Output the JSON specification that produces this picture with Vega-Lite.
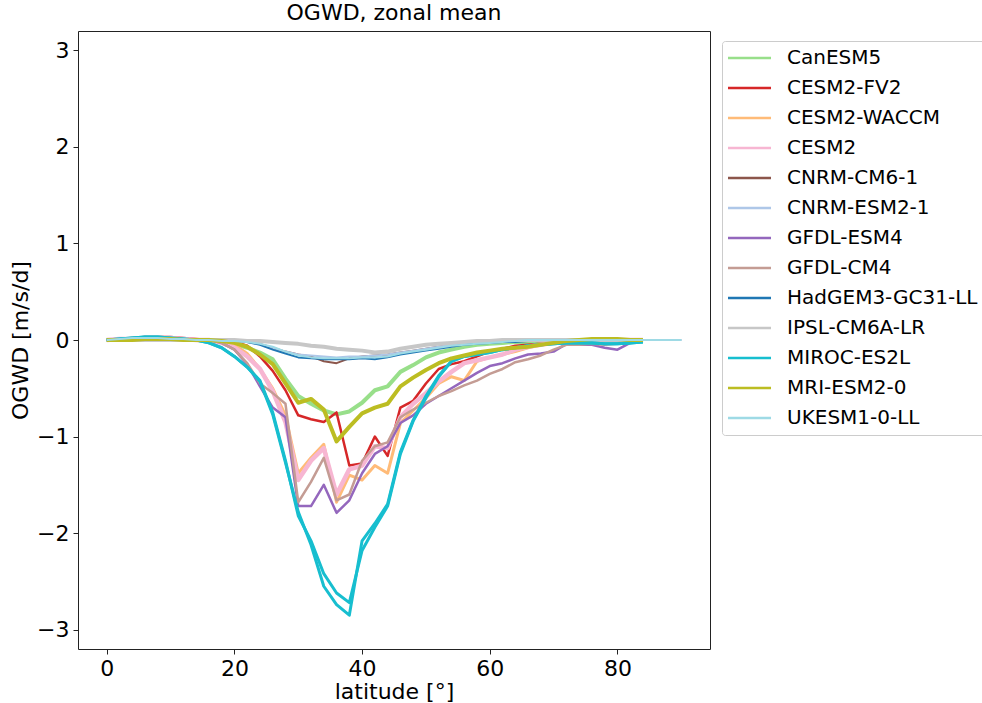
{
"$schema": "https://vega.github.io/schema/vega-lite/v6.json",
"width": 632, "height": 618,
"autosize": {"type": "none"},
"padding": {"left": 78, "top": 31, "right": 272, "bottom": 54},
"background": "white",
"title": {"text": "OGWD, zonal mean", "fontSize": 22, "font": "DejaVu Sans", "fontWeight": "normal", "color": "black", "offset": 6},
"config": {
  "view": {"stroke": "#222", "strokeWidth": 1},
  "axis": {"labelFont": "DejaVu Sans", "labelFontSize": 22, "labelColor": "black", "titleFont": "DejaVu Sans", "titleFontSize": 22, "titleFontWeight": "normal", "titleColor": "black", "tickColor": "#222", "tickSize": 5, "labelPadding": 4, "domain": false, "grid": false},
  "legend": {"orient": "none", "legendX": 644, "legendY": 10, "labelFont": "DejaVu Sans", "labelFontSize": 20, "labelColor": "black", "labelLimit": 0, "symbolType": "M-2.2,0H6.4", "symbolSize": 100, "symbolStrokeWidth": 2.5, "symbolFillColor": "transparent", "strokeColor": "#cccccc", "fillColor": "white", "padding": 7, "cornerRadius": 3, "labelOffset": 38, "rowPadding": 10, "title": null}
},
"data": {"values": [
{"model":"CanESM5","lat":0,"ogwd":0},{"model":"CanESM5","lat":2,"ogwd":0},{"model":"CanESM5","lat":4,"ogwd":0.01},{"model":"CanESM5","lat":6,"ogwd":0.01},{"model":"CanESM5","lat":8,"ogwd":0.01},{"model":"CanESM5","lat":10,"ogwd":0.01},{"model":"CanESM5","lat":12,"ogwd":0},{"model":"CanESM5","lat":14,"ogwd":0},{"model":"CanESM5","lat":16,"ogwd":-0.01},{"model":"CanESM5","lat":18,"ogwd":-0.02},{"model":"CanESM5","lat":20,"ogwd":-0.04},{"model":"CanESM5","lat":22,"ogwd":-0.08},{"model":"CanESM5","lat":24,"ogwd":-0.13},{"model":"CanESM5","lat":26,"ogwd":-0.2},{"model":"CanESM5","lat":28,"ogwd":-0.4},{"model":"CanESM5","lat":30,"ogwd":-0.58},{"model":"CanESM5","lat":32,"ogwd":-0.66},{"model":"CanESM5","lat":34,"ogwd":-0.73},{"model":"CanESM5","lat":36,"ogwd":-0.77},{"model":"CanESM5","lat":38,"ogwd":-0.74},{"model":"CanESM5","lat":40,"ogwd":-0.65},{"model":"CanESM5","lat":42,"ogwd":-0.52},{"model":"CanESM5","lat":44,"ogwd":-0.48},{"model":"CanESM5","lat":46,"ogwd":-0.33},{"model":"CanESM5","lat":48,"ogwd":-0.26},{"model":"CanESM5","lat":50,"ogwd":-0.18},{"model":"CanESM5","lat":52,"ogwd":-0.13},{"model":"CanESM5","lat":54,"ogwd":-0.1},{"model":"CanESM5","lat":56,"ogwd":-0.07},{"model":"CanESM5","lat":58,"ogwd":-0.05},{"model":"CanESM5","lat":60,"ogwd":-0.04},{"model":"CanESM5","lat":62,"ogwd":-0.03},{"model":"CanESM5","lat":64,"ogwd":-0.02},{"model":"CanESM5","lat":66,"ogwd":-0.02},{"model":"CanESM5","lat":68,"ogwd":-0.01},{"model":"CanESM5","lat":70,"ogwd":-0.01},{"model":"CanESM5","lat":72,"ogwd":0},{"model":"CanESM5","lat":74,"ogwd":0},{"model":"CanESM5","lat":76,"ogwd":0},{"model":"CanESM5","lat":78,"ogwd":0},{"model":"CanESM5","lat":80,"ogwd":0},{"model":"CanESM5","lat":82,"ogwd":0},{"model":"CanESM5","lat":84,"ogwd":0},
{"model":"CESM2-FV2","lat":0,"ogwd":0},{"model":"CESM2-FV2","lat":2,"ogwd":0.01},{"model":"CESM2-FV2","lat":4,"ogwd":0.02},{"model":"CESM2-FV2","lat":6,"ogwd":0.03},{"model":"CESM2-FV2","lat":8,"ogwd":0.03},{"model":"CESM2-FV2","lat":10,"ogwd":0.03},{"model":"CESM2-FV2","lat":12,"ogwd":0.02},{"model":"CESM2-FV2","lat":14,"ogwd":0.01},{"model":"CESM2-FV2","lat":16,"ogwd":0},{"model":"CESM2-FV2","lat":18,"ogwd":-0.01},{"model":"CESM2-FV2","lat":20,"ogwd":-0.02},{"model":"CESM2-FV2","lat":22,"ogwd":-0.06},{"model":"CESM2-FV2","lat":24,"ogwd":-0.17},{"model":"CESM2-FV2","lat":26,"ogwd":-0.32},{"model":"CESM2-FV2","lat":28,"ogwd":-0.52},{"model":"CESM2-FV2","lat":30,"ogwd":-0.78},{"model":"CESM2-FV2","lat":32,"ogwd":-0.82},{"model":"CESM2-FV2","lat":34,"ogwd":-0.85},{"model":"CESM2-FV2","lat":36,"ogwd":-0.75},{"model":"CESM2-FV2","lat":38,"ogwd":-1.3},{"model":"CESM2-FV2","lat":40,"ogwd":-1.28},{"model":"CESM2-FV2","lat":42,"ogwd":-1.0},{"model":"CESM2-FV2","lat":44,"ogwd":-1.2},{"model":"CESM2-FV2","lat":46,"ogwd":-0.7},{"model":"CESM2-FV2","lat":48,"ogwd":-0.63},{"model":"CESM2-FV2","lat":50,"ogwd":-0.45},{"model":"CESM2-FV2","lat":52,"ogwd":-0.3},{"model":"CESM2-FV2","lat":54,"ogwd":-0.25},{"model":"CESM2-FV2","lat":56,"ogwd":-0.22},{"model":"CESM2-FV2","lat":58,"ogwd":-0.17},{"model":"CESM2-FV2","lat":60,"ogwd":-0.12},{"model":"CESM2-FV2","lat":62,"ogwd":-0.09},{"model":"CESM2-FV2","lat":64,"ogwd":-0.06},{"model":"CESM2-FV2","lat":66,"ogwd":-0.05},{"model":"CESM2-FV2","lat":68,"ogwd":-0.04},{"model":"CESM2-FV2","lat":70,"ogwd":-0.03},{"model":"CESM2-FV2","lat":72,"ogwd":-0.01},{"model":"CESM2-FV2","lat":74,"ogwd":0},{"model":"CESM2-FV2","lat":76,"ogwd":0},{"model":"CESM2-FV2","lat":78,"ogwd":0},{"model":"CESM2-FV2","lat":80,"ogwd":0},{"model":"CESM2-FV2","lat":82,"ogwd":0},{"model":"CESM2-FV2","lat":84,"ogwd":0},
{"model":"CESM2-WACCM","lat":0,"ogwd":0},{"model":"CESM2-WACCM","lat":2,"ogwd":0.01},{"model":"CESM2-WACCM","lat":4,"ogwd":0.01},{"model":"CESM2-WACCM","lat":6,"ogwd":0.02},{"model":"CESM2-WACCM","lat":8,"ogwd":0.02},{"model":"CESM2-WACCM","lat":10,"ogwd":0.02},{"model":"CESM2-WACCM","lat":12,"ogwd":0.01},{"model":"CESM2-WACCM","lat":14,"ogwd":0},{"model":"CESM2-WACCM","lat":16,"ogwd":0},{"model":"CESM2-WACCM","lat":18,"ogwd":-0.02},{"model":"CESM2-WACCM","lat":20,"ogwd":-0.05},{"model":"CESM2-WACCM","lat":22,"ogwd":-0.14},{"model":"CESM2-WACCM","lat":24,"ogwd":-0.3},{"model":"CESM2-WACCM","lat":26,"ogwd":-0.5},{"model":"CESM2-WACCM","lat":28,"ogwd":-0.78},{"model":"CESM2-WACCM","lat":30,"ogwd":-1.38},{"model":"CESM2-WACCM","lat":32,"ogwd":-1.22},{"model":"CESM2-WACCM","lat":34,"ogwd":-1.08},{"model":"CESM2-WACCM","lat":36,"ogwd":-1.68},{"model":"CESM2-WACCM","lat":38,"ogwd":-1.4},{"model":"CESM2-WACCM","lat":40,"ogwd":-1.45},{"model":"CESM2-WACCM","lat":42,"ogwd":-1.3},{"model":"CESM2-WACCM","lat":44,"ogwd":-1.38},{"model":"CESM2-WACCM","lat":46,"ogwd":-0.86},{"model":"CESM2-WACCM","lat":48,"ogwd":-0.73},{"model":"CESM2-WACCM","lat":50,"ogwd":-0.6},{"model":"CESM2-WACCM","lat":52,"ogwd":-0.45},{"model":"CESM2-WACCM","lat":54,"ogwd":-0.38},{"model":"CESM2-WACCM","lat":56,"ogwd":-0.42},{"model":"CESM2-WACCM","lat":58,"ogwd":-0.22},{"model":"CESM2-WACCM","lat":60,"ogwd":-0.18},{"model":"CESM2-WACCM","lat":62,"ogwd":-0.15},{"model":"CESM2-WACCM","lat":64,"ogwd":-0.12},{"model":"CESM2-WACCM","lat":66,"ogwd":-0.08},{"model":"CESM2-WACCM","lat":68,"ogwd":-0.05},{"model":"CESM2-WACCM","lat":70,"ogwd":-0.03},{"model":"CESM2-WACCM","lat":72,"ogwd":-0.02},{"model":"CESM2-WACCM","lat":74,"ogwd":-0.01},{"model":"CESM2-WACCM","lat":76,"ogwd":0},{"model":"CESM2-WACCM","lat":78,"ogwd":0},{"model":"CESM2-WACCM","lat":80,"ogwd":0},{"model":"CESM2-WACCM","lat":82,"ogwd":0},{"model":"CESM2-WACCM","lat":84,"ogwd":0},
{"model":"CESM2","lat":0,"ogwd":0},{"model":"CESM2","lat":2,"ogwd":0.01},{"model":"CESM2","lat":4,"ogwd":0.01},{"model":"CESM2","lat":6,"ogwd":0.02},{"model":"CESM2","lat":8,"ogwd":0.02},{"model":"CESM2","lat":10,"ogwd":0.02},{"model":"CESM2","lat":12,"ogwd":0.01},{"model":"CESM2","lat":14,"ogwd":0},{"model":"CESM2","lat":16,"ogwd":0},{"model":"CESM2","lat":18,"ogwd":-0.03},{"model":"CESM2","lat":20,"ogwd":-0.08},{"model":"CESM2","lat":22,"ogwd":-0.17},{"model":"CESM2","lat":24,"ogwd":-0.3},{"model":"CESM2","lat":26,"ogwd":-0.53},{"model":"CESM2","lat":28,"ogwd":-0.85},{"model":"CESM2","lat":30,"ogwd":-1.45},{"model":"CESM2","lat":32,"ogwd":-1.25},{"model":"CESM2","lat":34,"ogwd":-1.12},{"model":"CESM2","lat":36,"ogwd":-1.6},{"model":"CESM2","lat":38,"ogwd":-1.34},{"model":"CESM2","lat":40,"ogwd":-1.3},{"model":"CESM2","lat":42,"ogwd":-1.1},{"model":"CESM2","lat":44,"ogwd":-1.12},{"model":"CESM2","lat":46,"ogwd":-0.8},{"model":"CESM2","lat":48,"ogwd":-0.66},{"model":"CESM2","lat":50,"ogwd":-0.55},{"model":"CESM2","lat":52,"ogwd":-0.43},{"model":"CESM2","lat":54,"ogwd":-0.33},{"model":"CESM2","lat":56,"ogwd":-0.24},{"model":"CESM2","lat":58,"ogwd":-0.21},{"model":"CESM2","lat":60,"ogwd":-0.18},{"model":"CESM2","lat":62,"ogwd":-0.15},{"model":"CESM2","lat":64,"ogwd":-0.1},{"model":"CESM2","lat":66,"ogwd":-0.07},{"model":"CESM2","lat":68,"ogwd":-0.05},{"model":"CESM2","lat":70,"ogwd":-0.03},{"model":"CESM2","lat":72,"ogwd":-0.02},{"model":"CESM2","lat":74,"ogwd":-0.01},{"model":"CESM2","lat":76,"ogwd":0},{"model":"CESM2","lat":78,"ogwd":0},{"model":"CESM2","lat":80,"ogwd":0},{"model":"CESM2","lat":82,"ogwd":0},{"model":"CESM2","lat":84,"ogwd":0},
{"model":"CNRM-CM6-1","lat":0,"ogwd":0},{"model":"CNRM-CM6-1","lat":2,"ogwd":0},{"model":"CNRM-CM6-1","lat":4,"ogwd":0},{"model":"CNRM-CM6-1","lat":6,"ogwd":0.01},{"model":"CNRM-CM6-1","lat":8,"ogwd":0.01},{"model":"CNRM-CM6-1","lat":10,"ogwd":0.01},{"model":"CNRM-CM6-1","lat":12,"ogwd":0},{"model":"CNRM-CM6-1","lat":14,"ogwd":0},{"model":"CNRM-CM6-1","lat":16,"ogwd":0},{"model":"CNRM-CM6-1","lat":18,"ogwd":0},{"model":"CNRM-CM6-1","lat":20,"ogwd":-0.01},{"model":"CNRM-CM6-1","lat":22,"ogwd":-0.02},{"model":"CNRM-CM6-1","lat":24,"ogwd":-0.04},{"model":"CNRM-CM6-1","lat":26,"ogwd":-0.08},{"model":"CNRM-CM6-1","lat":28,"ogwd":-0.12},{"model":"CNRM-CM6-1","lat":30,"ogwd":-0.15},{"model":"CNRM-CM6-1","lat":32,"ogwd":-0.17},{"model":"CNRM-CM6-1","lat":34,"ogwd":-0.22},{"model":"CNRM-CM6-1","lat":36,"ogwd":-0.24},{"model":"CNRM-CM6-1","lat":38,"ogwd":-0.19},{"model":"CNRM-CM6-1","lat":40,"ogwd":-0.17},{"model":"CNRM-CM6-1","lat":42,"ogwd":-0.16},{"model":"CNRM-CM6-1","lat":44,"ogwd":-0.15},{"model":"CNRM-CM6-1","lat":46,"ogwd":-0.13},{"model":"CNRM-CM6-1","lat":48,"ogwd":-0.11},{"model":"CNRM-CM6-1","lat":50,"ogwd":-0.09},{"model":"CNRM-CM6-1","lat":52,"ogwd":-0.07},{"model":"CNRM-CM6-1","lat":54,"ogwd":-0.05},{"model":"CNRM-CM6-1","lat":56,"ogwd":-0.04},{"model":"CNRM-CM6-1","lat":58,"ogwd":-0.03},{"model":"CNRM-CM6-1","lat":60,"ogwd":-0.02},{"model":"CNRM-CM6-1","lat":62,"ogwd":-0.01},{"model":"CNRM-CM6-1","lat":64,"ogwd":0},{"model":"CNRM-CM6-1","lat":66,"ogwd":0},{"model":"CNRM-CM6-1","lat":68,"ogwd":0},{"model":"CNRM-CM6-1","lat":70,"ogwd":0},{"model":"CNRM-CM6-1","lat":72,"ogwd":0},{"model":"CNRM-CM6-1","lat":74,"ogwd":0},{"model":"CNRM-CM6-1","lat":76,"ogwd":0},{"model":"CNRM-CM6-1","lat":78,"ogwd":0},{"model":"CNRM-CM6-1","lat":80,"ogwd":0},{"model":"CNRM-CM6-1","lat":82,"ogwd":0},{"model":"CNRM-CM6-1","lat":84,"ogwd":0},
{"model":"CNRM-ESM2-1","lat":0,"ogwd":0},{"model":"CNRM-ESM2-1","lat":2,"ogwd":0},{"model":"CNRM-ESM2-1","lat":4,"ogwd":0},{"model":"CNRM-ESM2-1","lat":6,"ogwd":0.01},{"model":"CNRM-ESM2-1","lat":8,"ogwd":0.01},{"model":"CNRM-ESM2-1","lat":10,"ogwd":0.01},{"model":"CNRM-ESM2-1","lat":12,"ogwd":0},{"model":"CNRM-ESM2-1","lat":14,"ogwd":0},{"model":"CNRM-ESM2-1","lat":16,"ogwd":0},{"model":"CNRM-ESM2-1","lat":18,"ogwd":0},{"model":"CNRM-ESM2-1","lat":20,"ogwd":-0.01},{"model":"CNRM-ESM2-1","lat":22,"ogwd":-0.02},{"model":"CNRM-ESM2-1","lat":24,"ogwd":-0.04},{"model":"CNRM-ESM2-1","lat":26,"ogwd":-0.08},{"model":"CNRM-ESM2-1","lat":28,"ogwd":-0.12},{"model":"CNRM-ESM2-1","lat":30,"ogwd":-0.15},{"model":"CNRM-ESM2-1","lat":32,"ogwd":-0.16},{"model":"CNRM-ESM2-1","lat":34,"ogwd":-0.17},{"model":"CNRM-ESM2-1","lat":36,"ogwd":-0.18},{"model":"CNRM-ESM2-1","lat":38,"ogwd":-0.17},{"model":"CNRM-ESM2-1","lat":40,"ogwd":-0.17},{"model":"CNRM-ESM2-1","lat":42,"ogwd":-0.16},{"model":"CNRM-ESM2-1","lat":44,"ogwd":-0.15},{"model":"CNRM-ESM2-1","lat":46,"ogwd":-0.13},{"model":"CNRM-ESM2-1","lat":48,"ogwd":-0.11},{"model":"CNRM-ESM2-1","lat":50,"ogwd":-0.09},{"model":"CNRM-ESM2-1","lat":52,"ogwd":-0.07},{"model":"CNRM-ESM2-1","lat":54,"ogwd":-0.05},{"model":"CNRM-ESM2-1","lat":56,"ogwd":-0.04},{"model":"CNRM-ESM2-1","lat":58,"ogwd":-0.03},{"model":"CNRM-ESM2-1","lat":60,"ogwd":-0.02},{"model":"CNRM-ESM2-1","lat":62,"ogwd":-0.01},{"model":"CNRM-ESM2-1","lat":64,"ogwd":0},{"model":"CNRM-ESM2-1","lat":66,"ogwd":0},{"model":"CNRM-ESM2-1","lat":68,"ogwd":0},{"model":"CNRM-ESM2-1","lat":70,"ogwd":0},{"model":"CNRM-ESM2-1","lat":72,"ogwd":0},{"model":"CNRM-ESM2-1","lat":74,"ogwd":0},{"model":"CNRM-ESM2-1","lat":76,"ogwd":0},{"model":"CNRM-ESM2-1","lat":78,"ogwd":0},{"model":"CNRM-ESM2-1","lat":80,"ogwd":0},{"model":"CNRM-ESM2-1","lat":82,"ogwd":0},{"model":"CNRM-ESM2-1","lat":84,"ogwd":0},
{"model":"GFDL-ESM4","lat":0,"ogwd":0},{"model":"GFDL-ESM4","lat":2,"ogwd":0},{"model":"GFDL-ESM4","lat":4,"ogwd":0},{"model":"GFDL-ESM4","lat":6,"ogwd":0.01},{"model":"GFDL-ESM4","lat":8,"ogwd":0.01},{"model":"GFDL-ESM4","lat":10,"ogwd":0.01},{"model":"GFDL-ESM4","lat":12,"ogwd":0},{"model":"GFDL-ESM4","lat":14,"ogwd":0},{"model":"GFDL-ESM4","lat":16,"ogwd":0},{"model":"GFDL-ESM4","lat":18,"ogwd":-0.03},{"model":"GFDL-ESM4","lat":20,"ogwd":-0.1},{"model":"GFDL-ESM4","lat":22,"ogwd":-0.25},{"model":"GFDL-ESM4","lat":24,"ogwd":-0.48},{"model":"GFDL-ESM4","lat":26,"ogwd":-0.7},{"model":"GFDL-ESM4","lat":28,"ogwd":-0.8},{"model":"GFDL-ESM4","lat":30,"ogwd":-1.72},{"model":"GFDL-ESM4","lat":32,"ogwd":-1.72},{"model":"GFDL-ESM4","lat":34,"ogwd":-1.5},{"model":"GFDL-ESM4","lat":36,"ogwd":-1.79},{"model":"GFDL-ESM4","lat":38,"ogwd":-1.66},{"model":"GFDL-ESM4","lat":40,"ogwd":-1.38},{"model":"GFDL-ESM4","lat":42,"ogwd":-1.18},{"model":"GFDL-ESM4","lat":44,"ogwd":-1.1},{"model":"GFDL-ESM4","lat":46,"ogwd":-0.86},{"model":"GFDL-ESM4","lat":48,"ogwd":-0.78},{"model":"GFDL-ESM4","lat":50,"ogwd":-0.66},{"model":"GFDL-ESM4","lat":52,"ogwd":-0.58},{"model":"GFDL-ESM4","lat":54,"ogwd":-0.5},{"model":"GFDL-ESM4","lat":56,"ogwd":-0.42},{"model":"GFDL-ESM4","lat":58,"ogwd":-0.34},{"model":"GFDL-ESM4","lat":60,"ogwd":-0.27},{"model":"GFDL-ESM4","lat":62,"ogwd":-0.24},{"model":"GFDL-ESM4","lat":64,"ogwd":-0.19},{"model":"GFDL-ESM4","lat":66,"ogwd":-0.15},{"model":"GFDL-ESM4","lat":68,"ogwd":-0.14},{"model":"GFDL-ESM4","lat":70,"ogwd":-0.12},{"model":"GFDL-ESM4","lat":72,"ogwd":-0.04},{"model":"GFDL-ESM4","lat":74,"ogwd":-0.05},{"model":"GFDL-ESM4","lat":76,"ogwd":-0.05},{"model":"GFDL-ESM4","lat":78,"ogwd":-0.08},{"model":"GFDL-ESM4","lat":80,"ogwd":-0.1},{"model":"GFDL-ESM4","lat":82,"ogwd":-0.03},{"model":"GFDL-ESM4","lat":84,"ogwd":-0.01},
{"model":"GFDL-CM4","lat":0,"ogwd":0},{"model":"GFDL-CM4","lat":2,"ogwd":0},{"model":"GFDL-CM4","lat":4,"ogwd":0},{"model":"GFDL-CM4","lat":6,"ogwd":0.01},{"model":"GFDL-CM4","lat":8,"ogwd":0.01},{"model":"GFDL-CM4","lat":10,"ogwd":0.01},{"model":"GFDL-CM4","lat":12,"ogwd":0},{"model":"GFDL-CM4","lat":14,"ogwd":0},{"model":"GFDL-CM4","lat":16,"ogwd":0},{"model":"GFDL-CM4","lat":18,"ogwd":-0.03},{"model":"GFDL-CM4","lat":20,"ogwd":-0.1},{"model":"GFDL-CM4","lat":22,"ogwd":-0.24},{"model":"GFDL-CM4","lat":24,"ogwd":-0.45},{"model":"GFDL-CM4","lat":26,"ogwd":-0.55},{"model":"GFDL-CM4","lat":28,"ogwd":-0.66},{"model":"GFDL-CM4","lat":30,"ogwd":-1.68},{"model":"GFDL-CM4","lat":32,"ogwd":-1.47},{"model":"GFDL-CM4","lat":34,"ogwd":-1.22},{"model":"GFDL-CM4","lat":36,"ogwd":-1.66},{"model":"GFDL-CM4","lat":38,"ogwd":-1.6},{"model":"GFDL-CM4","lat":40,"ogwd":-1.25},{"model":"GFDL-CM4","lat":42,"ogwd":-1.1},{"model":"GFDL-CM4","lat":44,"ogwd":-1.06},{"model":"GFDL-CM4","lat":46,"ogwd":-0.8},{"model":"GFDL-CM4","lat":48,"ogwd":-0.72},{"model":"GFDL-CM4","lat":50,"ogwd":-0.65},{"model":"GFDL-CM4","lat":52,"ogwd":-0.58},{"model":"GFDL-CM4","lat":54,"ogwd":-0.53},{"model":"GFDL-CM4","lat":56,"ogwd":-0.47},{"model":"GFDL-CM4","lat":58,"ogwd":-0.42},{"model":"GFDL-CM4","lat":60,"ogwd":-0.35},{"model":"GFDL-CM4","lat":62,"ogwd":-0.3},{"model":"GFDL-CM4","lat":64,"ogwd":-0.23},{"model":"GFDL-CM4","lat":66,"ogwd":-0.2},{"model":"GFDL-CM4","lat":68,"ogwd":-0.16},{"model":"GFDL-CM4","lat":70,"ogwd":-0.1},{"model":"GFDL-CM4","lat":72,"ogwd":-0.05},{"model":"GFDL-CM4","lat":74,"ogwd":-0.05},{"model":"GFDL-CM4","lat":76,"ogwd":-0.04},{"model":"GFDL-CM4","lat":78,"ogwd":-0.05},{"model":"GFDL-CM4","lat":80,"ogwd":-0.04},{"model":"GFDL-CM4","lat":82,"ogwd":-0.02},{"model":"GFDL-CM4","lat":84,"ogwd":0},
{"model":"HadGEM3-GC31-LL","lat":0,"ogwd":0},{"model":"HadGEM3-GC31-LL","lat":2,"ogwd":0.01},{"model":"HadGEM3-GC31-LL","lat":4,"ogwd":0.02},{"model":"HadGEM3-GC31-LL","lat":6,"ogwd":0.02},{"model":"HadGEM3-GC31-LL","lat":8,"ogwd":0.02},{"model":"HadGEM3-GC31-LL","lat":10,"ogwd":0.01},{"model":"HadGEM3-GC31-LL","lat":12,"ogwd":0.01},{"model":"HadGEM3-GC31-LL","lat":14,"ogwd":0},{"model":"HadGEM3-GC31-LL","lat":16,"ogwd":0},{"model":"HadGEM3-GC31-LL","lat":18,"ogwd":-0.01},{"model":"HadGEM3-GC31-LL","lat":20,"ogwd":-0.01},{"model":"HadGEM3-GC31-LL","lat":22,"ogwd":-0.02},{"model":"HadGEM3-GC31-LL","lat":24,"ogwd":-0.05},{"model":"HadGEM3-GC31-LL","lat":26,"ogwd":-0.1},{"model":"HadGEM3-GC31-LL","lat":28,"ogwd":-0.14},{"model":"HadGEM3-GC31-LL","lat":30,"ogwd":-0.18},{"model":"HadGEM3-GC31-LL","lat":32,"ogwd":-0.19},{"model":"HadGEM3-GC31-LL","lat":34,"ogwd":-0.2},{"model":"HadGEM3-GC31-LL","lat":36,"ogwd":-0.2},{"model":"HadGEM3-GC31-LL","lat":38,"ogwd":-0.2},{"model":"HadGEM3-GC31-LL","lat":40,"ogwd":-0.19},{"model":"HadGEM3-GC31-LL","lat":42,"ogwd":-0.2},{"model":"HadGEM3-GC31-LL","lat":44,"ogwd":-0.18},{"model":"HadGEM3-GC31-LL","lat":46,"ogwd":-0.15},{"model":"HadGEM3-GC31-LL","lat":48,"ogwd":-0.13},{"model":"HadGEM3-GC31-LL","lat":50,"ogwd":-0.11},{"model":"HadGEM3-GC31-LL","lat":52,"ogwd":-0.09},{"model":"HadGEM3-GC31-LL","lat":54,"ogwd":-0.07},{"model":"HadGEM3-GC31-LL","lat":56,"ogwd":-0.05},{"model":"HadGEM3-GC31-LL","lat":58,"ogwd":-0.04},{"model":"HadGEM3-GC31-LL","lat":60,"ogwd":-0.03},{"model":"HadGEM3-GC31-LL","lat":62,"ogwd":-0.02},{"model":"HadGEM3-GC31-LL","lat":64,"ogwd":-0.02},{"model":"HadGEM3-GC31-LL","lat":66,"ogwd":-0.01},{"model":"HadGEM3-GC31-LL","lat":68,"ogwd":0},{"model":"HadGEM3-GC31-LL","lat":70,"ogwd":0},{"model":"HadGEM3-GC31-LL","lat":72,"ogwd":0},{"model":"HadGEM3-GC31-LL","lat":74,"ogwd":0},{"model":"HadGEM3-GC31-LL","lat":76,"ogwd":0},{"model":"HadGEM3-GC31-LL","lat":78,"ogwd":0},{"model":"HadGEM3-GC31-LL","lat":80,"ogwd":0},{"model":"HadGEM3-GC31-LL","lat":82,"ogwd":0},{"model":"HadGEM3-GC31-LL","lat":84,"ogwd":0},{"model":"HadGEM3-GC31-LL","lat":86,"ogwd":0},{"model":"HadGEM3-GC31-LL","lat":88,"ogwd":0},{"model":"HadGEM3-GC31-LL","lat":90,"ogwd":0},
{"model":"IPSL-CM6A-LR","lat":0,"ogwd":0},{"model":"IPSL-CM6A-LR","lat":2,"ogwd":0},{"model":"IPSL-CM6A-LR","lat":4,"ogwd":0},{"model":"IPSL-CM6A-LR","lat":6,"ogwd":0},{"model":"IPSL-CM6A-LR","lat":8,"ogwd":0},{"model":"IPSL-CM6A-LR","lat":10,"ogwd":0},{"model":"IPSL-CM6A-LR","lat":12,"ogwd":0},{"model":"IPSL-CM6A-LR","lat":14,"ogwd":0},{"model":"IPSL-CM6A-LR","lat":16,"ogwd":0},{"model":"IPSL-CM6A-LR","lat":18,"ogwd":0},{"model":"IPSL-CM6A-LR","lat":20,"ogwd":0},{"model":"IPSL-CM6A-LR","lat":22,"ogwd":-0.01},{"model":"IPSL-CM6A-LR","lat":24,"ogwd":-0.01},{"model":"IPSL-CM6A-LR","lat":26,"ogwd":-0.02},{"model":"IPSL-CM6A-LR","lat":28,"ogwd":-0.03},{"model":"IPSL-CM6A-LR","lat":30,"ogwd":-0.04},{"model":"IPSL-CM6A-LR","lat":32,"ogwd":-0.06},{"model":"IPSL-CM6A-LR","lat":34,"ogwd":-0.07},{"model":"IPSL-CM6A-LR","lat":36,"ogwd":-0.09},{"model":"IPSL-CM6A-LR","lat":38,"ogwd":-0.1},{"model":"IPSL-CM6A-LR","lat":40,"ogwd":-0.11},{"model":"IPSL-CM6A-LR","lat":42,"ogwd":-0.13},{"model":"IPSL-CM6A-LR","lat":44,"ogwd":-0.12},{"model":"IPSL-CM6A-LR","lat":46,"ogwd":-0.09},{"model":"IPSL-CM6A-LR","lat":48,"ogwd":-0.07},{"model":"IPSL-CM6A-LR","lat":50,"ogwd":-0.05},{"model":"IPSL-CM6A-LR","lat":52,"ogwd":-0.04},{"model":"IPSL-CM6A-LR","lat":54,"ogwd":-0.03},{"model":"IPSL-CM6A-LR","lat":56,"ogwd":-0.02},{"model":"IPSL-CM6A-LR","lat":58,"ogwd":-0.01},{"model":"IPSL-CM6A-LR","lat":60,"ogwd":-0.01},{"model":"IPSL-CM6A-LR","lat":62,"ogwd":0},{"model":"IPSL-CM6A-LR","lat":64,"ogwd":0},{"model":"IPSL-CM6A-LR","lat":66,"ogwd":0},{"model":"IPSL-CM6A-LR","lat":68,"ogwd":0},{"model":"IPSL-CM6A-LR","lat":70,"ogwd":0},{"model":"IPSL-CM6A-LR","lat":72,"ogwd":0},{"model":"IPSL-CM6A-LR","lat":74,"ogwd":0},{"model":"IPSL-CM6A-LR","lat":76,"ogwd":0},{"model":"IPSL-CM6A-LR","lat":78,"ogwd":0},{"model":"IPSL-CM6A-LR","lat":80,"ogwd":0},{"model":"IPSL-CM6A-LR","lat":82,"ogwd":0},{"model":"IPSL-CM6A-LR","lat":84,"ogwd":0},
{"model":"MIROC-ES2L","member":"r1","lat":0,"ogwd":0},{"model":"MIROC-ES2L","member":"r1","lat":2,"ogwd":0.01},{"model":"MIROC-ES2L","member":"r1","lat":4,"ogwd":0.02},{"model":"MIROC-ES2L","member":"r1","lat":6,"ogwd":0.03},{"model":"MIROC-ES2L","member":"r1","lat":8,"ogwd":0.03},{"model":"MIROC-ES2L","member":"r1","lat":10,"ogwd":0.02},{"model":"MIROC-ES2L","member":"r1","lat":12,"ogwd":0.01},{"model":"MIROC-ES2L","member":"r1","lat":14,"ogwd":0},{"model":"MIROC-ES2L","member":"r1","lat":16,"ogwd":-0.03},{"model":"MIROC-ES2L","member":"r1","lat":18,"ogwd":-0.08},{"model":"MIROC-ES2L","member":"r1","lat":20,"ogwd":-0.17},{"model":"MIROC-ES2L","member":"r1","lat":22,"ogwd":-0.28},{"model":"MIROC-ES2L","member":"r1","lat":24,"ogwd":-0.42},{"model":"MIROC-ES2L","member":"r1","lat":26,"ogwd":-0.75},{"model":"MIROC-ES2L","member":"r1","lat":28,"ogwd":-1.25},{"model":"MIROC-ES2L","member":"r1","lat":30,"ogwd":-1.82},{"model":"MIROC-ES2L","member":"r1","lat":32,"ogwd":-2.08},{"model":"MIROC-ES2L","member":"r1","lat":34,"ogwd":-2.42},{"model":"MIROC-ES2L","member":"r1","lat":36,"ogwd":-2.62},{"model":"MIROC-ES2L","member":"r1","lat":38,"ogwd":-2.72},{"model":"MIROC-ES2L","member":"r1","lat":40,"ogwd":-2.18},{"model":"MIROC-ES2L","member":"r1","lat":42,"ogwd":-1.94},{"model":"MIROC-ES2L","member":"r1","lat":44,"ogwd":-1.72},{"model":"MIROC-ES2L","member":"r1","lat":46,"ogwd":-1.18},{"model":"MIROC-ES2L","member":"r1","lat":48,"ogwd":-0.84},{"model":"MIROC-ES2L","member":"r1","lat":50,"ogwd":-0.6},{"model":"MIROC-ES2L","member":"r1","lat":52,"ogwd":-0.38},{"model":"MIROC-ES2L","member":"r1","lat":54,"ogwd":-0.22},{"model":"MIROC-ES2L","member":"r1","lat":56,"ogwd":-0.17},{"model":"MIROC-ES2L","member":"r1","lat":58,"ogwd":-0.15},{"model":"MIROC-ES2L","member":"r1","lat":60,"ogwd":-0.13},{"model":"MIROC-ES2L","member":"r1","lat":62,"ogwd":-0.1},{"model":"MIROC-ES2L","member":"r1","lat":64,"ogwd":-0.08},{"model":"MIROC-ES2L","member":"r1","lat":66,"ogwd":-0.06},{"model":"MIROC-ES2L","member":"r1","lat":68,"ogwd":-0.05},{"model":"MIROC-ES2L","member":"r1","lat":70,"ogwd":-0.04},{"model":"MIROC-ES2L","member":"r1","lat":72,"ogwd":-0.03},{"model":"MIROC-ES2L","member":"r1","lat":74,"ogwd":-0.03},{"model":"MIROC-ES2L","member":"r1","lat":76,"ogwd":-0.03},{"model":"MIROC-ES2L","member":"r1","lat":78,"ogwd":-0.04},{"model":"MIROC-ES2L","member":"r1","lat":80,"ogwd":-0.04},{"model":"MIROC-ES2L","member":"r1","lat":82,"ogwd":-0.03},{"model":"MIROC-ES2L","member":"r1","lat":84,"ogwd":-0.02},
{"model":"MIROC-ES2L","member":"r2","lat":0,"ogwd":0},{"model":"MIROC-ES2L","member":"r2","lat":2,"ogwd":0.01},{"model":"MIROC-ES2L","member":"r2","lat":4,"ogwd":0.02},{"model":"MIROC-ES2L","member":"r2","lat":6,"ogwd":0.03},{"model":"MIROC-ES2L","member":"r2","lat":8,"ogwd":0.03},{"model":"MIROC-ES2L","member":"r2","lat":10,"ogwd":0.02},{"model":"MIROC-ES2L","member":"r2","lat":12,"ogwd":0.01},{"model":"MIROC-ES2L","member":"r2","lat":14,"ogwd":0},{"model":"MIROC-ES2L","member":"r2","lat":16,"ogwd":-0.03},{"model":"MIROC-ES2L","member":"r2","lat":18,"ogwd":-0.08},{"model":"MIROC-ES2L","member":"r2","lat":20,"ogwd":-0.17},{"model":"MIROC-ES2L","member":"r2","lat":22,"ogwd":-0.28},{"model":"MIROC-ES2L","member":"r2","lat":24,"ogwd":-0.43},{"model":"MIROC-ES2L","member":"r2","lat":26,"ogwd":-0.77},{"model":"MIROC-ES2L","member":"r2","lat":28,"ogwd":-1.27},{"model":"MIROC-ES2L","member":"r2","lat":30,"ogwd":-1.78},{"model":"MIROC-ES2L","member":"r2","lat":32,"ogwd":-2.12},{"model":"MIROC-ES2L","member":"r2","lat":34,"ogwd":-2.55},{"model":"MIROC-ES2L","member":"r2","lat":36,"ogwd":-2.74},{"model":"MIROC-ES2L","member":"r2","lat":38,"ogwd":-2.85},{"model":"MIROC-ES2L","member":"r2","lat":40,"ogwd":-2.08},{"model":"MIROC-ES2L","member":"r2","lat":42,"ogwd":-1.9},{"model":"MIROC-ES2L","member":"r2","lat":44,"ogwd":-1.7},{"model":"MIROC-ES2L","member":"r2","lat":46,"ogwd":-1.16},{"model":"MIROC-ES2L","member":"r2","lat":48,"ogwd":-0.83},{"model":"MIROC-ES2L","member":"r2","lat":50,"ogwd":-0.58},{"model":"MIROC-ES2L","member":"r2","lat":52,"ogwd":-0.37},{"model":"MIROC-ES2L","member":"r2","lat":54,"ogwd":-0.22},{"model":"MIROC-ES2L","member":"r2","lat":56,"ogwd":-0.17},{"model":"MIROC-ES2L","member":"r2","lat":58,"ogwd":-0.15},{"model":"MIROC-ES2L","member":"r2","lat":60,"ogwd":-0.13},{"model":"MIROC-ES2L","member":"r2","lat":62,"ogwd":-0.1},{"model":"MIROC-ES2L","member":"r2","lat":64,"ogwd":-0.08},{"model":"MIROC-ES2L","member":"r2","lat":66,"ogwd":-0.06},{"model":"MIROC-ES2L","member":"r2","lat":68,"ogwd":-0.05},{"model":"MIROC-ES2L","member":"r2","lat":70,"ogwd":-0.04},{"model":"MIROC-ES2L","member":"r2","lat":72,"ogwd":-0.03},{"model":"MIROC-ES2L","member":"r2","lat":74,"ogwd":-0.03},{"model":"MIROC-ES2L","member":"r2","lat":76,"ogwd":-0.03},{"model":"MIROC-ES2L","member":"r2","lat":78,"ogwd":-0.04},{"model":"MIROC-ES2L","member":"r2","lat":80,"ogwd":-0.04},{"model":"MIROC-ES2L","member":"r2","lat":82,"ogwd":-0.03},{"model":"MIROC-ES2L","member":"r2","lat":84,"ogwd":-0.02},
{"model":"MRI-ESM2-0","lat":0,"ogwd":0},{"model":"MRI-ESM2-0","lat":2,"ogwd":0},{"model":"MRI-ESM2-0","lat":4,"ogwd":0},{"model":"MRI-ESM2-0","lat":6,"ogwd":0.01},{"model":"MRI-ESM2-0","lat":8,"ogwd":0.01},{"model":"MRI-ESM2-0","lat":10,"ogwd":0.01},{"model":"MRI-ESM2-0","lat":12,"ogwd":0},{"model":"MRI-ESM2-0","lat":14,"ogwd":0},{"model":"MRI-ESM2-0","lat":16,"ogwd":0},{"model":"MRI-ESM2-0","lat":18,"ogwd":-0.01},{"model":"MRI-ESM2-0","lat":20,"ogwd":-0.03},{"model":"MRI-ESM2-0","lat":22,"ogwd":-0.07},{"model":"MRI-ESM2-0","lat":24,"ogwd":-0.15},{"model":"MRI-ESM2-0","lat":26,"ogwd":-0.25},{"model":"MRI-ESM2-0","lat":28,"ogwd":-0.45},{"model":"MRI-ESM2-0","lat":30,"ogwd":-0.65},{"model":"MRI-ESM2-0","lat":32,"ogwd":-0.61},{"model":"MRI-ESM2-0","lat":34,"ogwd":-0.72},{"model":"MRI-ESM2-0","lat":36,"ogwd":-1.05},{"model":"MRI-ESM2-0","lat":38,"ogwd":-0.9},{"model":"MRI-ESM2-0","lat":40,"ogwd":-0.76},{"model":"MRI-ESM2-0","lat":42,"ogwd":-0.7},{"model":"MRI-ESM2-0","lat":44,"ogwd":-0.66},{"model":"MRI-ESM2-0","lat":46,"ogwd":-0.48},{"model":"MRI-ESM2-0","lat":48,"ogwd":-0.39},{"model":"MRI-ESM2-0","lat":50,"ogwd":-0.31},{"model":"MRI-ESM2-0","lat":52,"ogwd":-0.24},{"model":"MRI-ESM2-0","lat":54,"ogwd":-0.19},{"model":"MRI-ESM2-0","lat":56,"ogwd":-0.16},{"model":"MRI-ESM2-0","lat":58,"ogwd":-0.13},{"model":"MRI-ESM2-0","lat":60,"ogwd":-0.11},{"model":"MRI-ESM2-0","lat":62,"ogwd":-0.09},{"model":"MRI-ESM2-0","lat":64,"ogwd":-0.08},{"model":"MRI-ESM2-0","lat":66,"ogwd":-0.07},{"model":"MRI-ESM2-0","lat":68,"ogwd":-0.05},{"model":"MRI-ESM2-0","lat":70,"ogwd":-0.03},{"model":"MRI-ESM2-0","lat":72,"ogwd":-0.01},{"model":"MRI-ESM2-0","lat":74,"ogwd":0},{"model":"MRI-ESM2-0","lat":76,"ogwd":0.01},{"model":"MRI-ESM2-0","lat":78,"ogwd":0.01},{"model":"MRI-ESM2-0","lat":80,"ogwd":0.01},{"model":"MRI-ESM2-0","lat":82,"ogwd":0},{"model":"MRI-ESM2-0","lat":84,"ogwd":0},
{"model":"UKESM1-0-LL","lat":0,"ogwd":0},{"model":"UKESM1-0-LL","lat":2,"ogwd":0.01},{"model":"UKESM1-0-LL","lat":4,"ogwd":0.02},{"model":"UKESM1-0-LL","lat":6,"ogwd":0.02},{"model":"UKESM1-0-LL","lat":8,"ogwd":0.02},{"model":"UKESM1-0-LL","lat":10,"ogwd":0.01},{"model":"UKESM1-0-LL","lat":12,"ogwd":0.01},{"model":"UKESM1-0-LL","lat":14,"ogwd":0},{"model":"UKESM1-0-LL","lat":16,"ogwd":0},{"model":"UKESM1-0-LL","lat":18,"ogwd":-0.01},{"model":"UKESM1-0-LL","lat":20,"ogwd":-0.01},{"model":"UKESM1-0-LL","lat":22,"ogwd":-0.02},{"model":"UKESM1-0-LL","lat":24,"ogwd":-0.04},{"model":"UKESM1-0-LL","lat":26,"ogwd":-0.07},{"model":"UKESM1-0-LL","lat":28,"ogwd":-0.12},{"model":"UKESM1-0-LL","lat":30,"ogwd":-0.16},{"model":"UKESM1-0-LL","lat":32,"ogwd":-0.18},{"model":"UKESM1-0-LL","lat":34,"ogwd":-0.19},{"model":"UKESM1-0-LL","lat":36,"ogwd":-0.19},{"model":"UKESM1-0-LL","lat":38,"ogwd":-0.19},{"model":"UKESM1-0-LL","lat":40,"ogwd":-0.18},{"model":"UKESM1-0-LL","lat":42,"ogwd":-0.18},{"model":"UKESM1-0-LL","lat":44,"ogwd":-0.17},{"model":"UKESM1-0-LL","lat":46,"ogwd":-0.14},{"model":"UKESM1-0-LL","lat":48,"ogwd":-0.12},{"model":"UKESM1-0-LL","lat":50,"ogwd":-0.1},{"model":"UKESM1-0-LL","lat":52,"ogwd":-0.08},{"model":"UKESM1-0-LL","lat":54,"ogwd":-0.06},{"model":"UKESM1-0-LL","lat":56,"ogwd":-0.05},{"model":"UKESM1-0-LL","lat":58,"ogwd":-0.04},{"model":"UKESM1-0-LL","lat":60,"ogwd":-0.03},{"model":"UKESM1-0-LL","lat":62,"ogwd":-0.02},{"model":"UKESM1-0-LL","lat":64,"ogwd":-0.01},{"model":"UKESM1-0-LL","lat":66,"ogwd":0},{"model":"UKESM1-0-LL","lat":68,"ogwd":0},{"model":"UKESM1-0-LL","lat":70,"ogwd":0},{"model":"UKESM1-0-LL","lat":72,"ogwd":0},{"model":"UKESM1-0-LL","lat":74,"ogwd":0},{"model":"UKESM1-0-LL","lat":76,"ogwd":0},{"model":"UKESM1-0-LL","lat":78,"ogwd":0},{"model":"UKESM1-0-LL","lat":80,"ogwd":0},{"model":"UKESM1-0-LL","lat":82,"ogwd":0},{"model":"UKESM1-0-LL","lat":84,"ogwd":0},{"model":"UKESM1-0-LL","lat":86,"ogwd":0},{"model":"UKESM1-0-LL","lat":88,"ogwd":0},{"model":"UKESM1-0-LL","lat":90,"ogwd":0}
]},
"mark": {"type": "line", "strokeJoin": "round", "clip": true},
"encoding": {
  "x": {"field": "lat", "type": "quantitative", "scale": {"domain": [-4.5, 94.5], "nice": false, "zero": false}, "axis": {"values": [0, 20, 40, 60, 80], "title": "latitude [°]", "titlePadding": 2}},
  "y": {"field": "ogwd", "type": "quantitative", "scale": {"domain": [-3.2, 3.2], "nice": false}, "axis": {"values": [-3, -2, -1, 0, 1, 2, 3], "title": "OGWD [m/s/d]", "titlePadding": 4}},
  "color": {"field": "model", "type": "nominal",
    "scale": {"domain": ["CanESM5","CESM2-FV2","CESM2-WACCM","CESM2","CNRM-CM6-1","CNRM-ESM2-1","GFDL-ESM4","GFDL-CM4","HadGEM3-GC31-LL","IPSL-CM6A-LR","MIROC-ES2L","MRI-ESM2-0","UKESM1-0-LL"],
              "range": ["#98df8a","#d62728","#ffbb78","#f7b6d2","#8c564b","#aec7e8","#9467bd","#c49c94","#1f77b4","#c7c7c7","#17becf","#bcbd22","#9edae5"]}},
  "strokeWidth": {"condition": [
      {"test": "datum.model === 'CESM2'", "value": 4.5},
      {"test": "datum.model === 'CanESM5' || datum.model === 'MRI-ESM2-0' || datum.model === 'IPSL-CM6A-LR'", "value": 4},
      {"test": "datum.model === 'CESM2-WACCM' || datum.model === 'MIROC-ES2L'", "value": 3},
      {"test": "datum.model === 'CESM2-FV2' || datum.model === 'GFDL-ESM4' || datum.model === 'GFDL-CM4'", "value": 2.5}
    ], "value": 2},
  "detail": {"field": "member", "type": "nominal"}
}
}
